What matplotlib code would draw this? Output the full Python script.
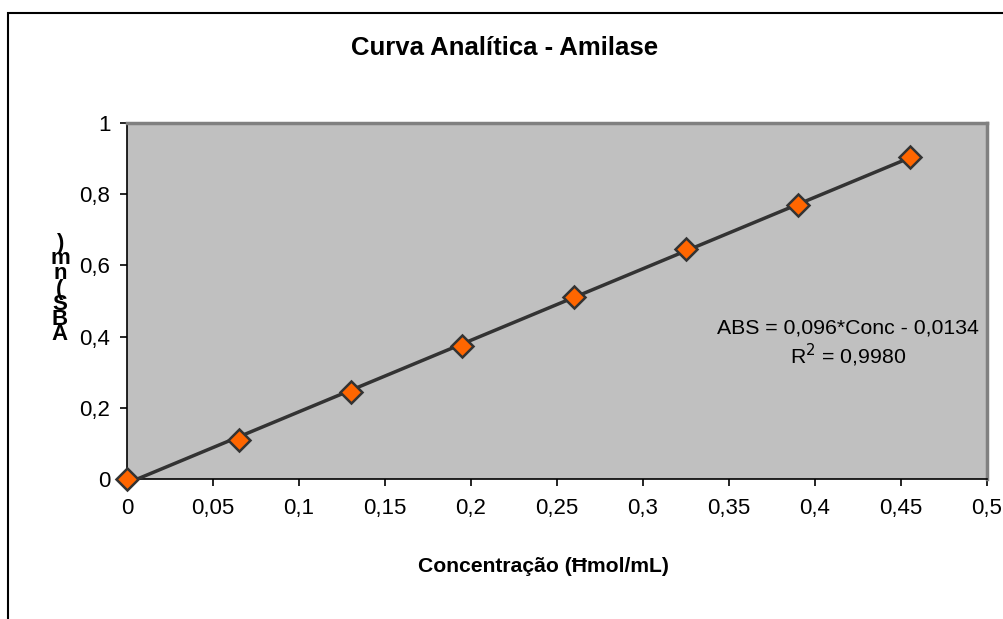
import matplotlib.pyplot as plt
from matplotlib.patches import Rectangle
import numpy as np

plt.rcParams['font.family'] = ['Liberation Sans', 'DejaVu Sans']

# dados da curva
conc = [0, 0.065, 0.13, 0.195, 0.26, 0.325, 0.39, 0.455]
abs_vals = [0, 0.11, 0.245, 0.375, 0.51, 0.645, 0.77, 0.905]
xticks = [0, 0.05, 0.1, 0.15, 0.2, 0.25, 0.3, 0.35, 0.4, 0.45, 0.5]
yticks = [0, 0.2, 0.4, 0.6, 0.8, 1]

def virgula(v):
    return ('%g' % v).replace('.', ',')

fig = plt.figure(figsize=(10.04, 6.19), dpi=100)
# moldura do grafico (cortada na direita e embaixo)
fig.patches.append(Rectangle((8/1004, -0.1), 1.2, 1 - 13/619 + 0.1, transform=fig.transFigure,
                             fill=False, edgecolor='black', linewidth=1.5))

ax = fig.add_axes([127/1004, 1 - 479/619, 860/1004, 356/619])
ax.set_facecolor('#C0C0C0')
ax.set_xlim(0, 0.5)
ax.set_ylim(0, 1)
for s in ['top', 'right']:
    ax.spines[s].set_color('#808080')
    ax.spines[s].set_linewidth(2.5)
for s in ['left', 'bottom']:
    ax.spines[s].set_color('black')
    ax.spines[s].set_linewidth(1.2)

# linha de tendencia (ajuste linear)
coef = np.polyfit(conc, abs_vals, 1)
xl = np.array([conc[0], conc[-1]])
ax.plot(xl, np.polyval(coef, xl), color='#333333', lw=2.5, zorder=3)
ax.plot(conc, abs_vals, 'D', markersize=11.5, markerfacecolor='#FF6600',
        markeredgecolor='#333333', markeredgewidth=1.8, zorder=4, clip_on=False)

ax.set_xticks(xticks)
ax.set_xticklabels([virgula(v) for v in xticks])
ax.set_yticks(yticks)
ax.set_yticklabels([virgula(v) for v in yticks])
ax.tick_params(direction='out', length=5, width=1.2, labelsize=16, pad=7)
ax.tick_params(axis='x', pad=9)

ax.text(0.419, 0.379, 'ABS = 0,096*Conc - 0,0134\nR$^2$ = 0,9980', ha='center', va='center',
        multialignment='center', fontsize=15.3, linespacing=1.2)

fig.text(505/1004, 1 - 48/619, 'Curva Analítica - Amilase', ha='center', va='center',
         fontsize=18.5, fontweight='bold')
fig.text(543/1004, 1 - 567/619, 'Concentração (Ħmol/mL)', ha='center', va='center',
         fontsize=15.2, fontweight='bold')
# rotulo do eixo y empilhado
fig.text(60/1004, 1 - 289/619, '\n'.join(reversed('ABS(nm)')), ha='center', va='center',
         fontsize=16, fontweight='bold', linespacing=0.64)

plt.savefig('out.png', dpi=100)
